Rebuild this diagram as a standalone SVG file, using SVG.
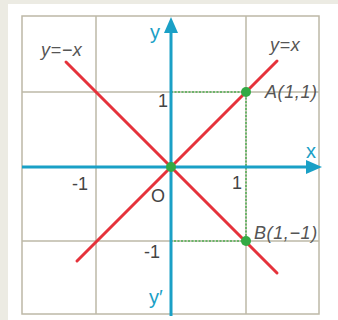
<svg xmlns="http://www.w3.org/2000/svg" width="338" height="320" viewBox="0 0 338 320">
<style>
.grid{stroke:#bdb8a7;stroke-width:1.5;fill:none}
.red{stroke:#e5323b;stroke-width:3;stroke-linecap:round}
.axis{stroke:#1aa0c6;stroke-width:3}
.dash{stroke:#4caf50;stroke-width:1.5;stroke-dasharray:2 1.5;fill:none}
.dot{fill:#33aa44}
.lbl{font-family:"Liberation Sans",Arial,sans-serif;font-style:italic;font-size:18px;fill:#555;letter-spacing:0.6px}
.num{font-family:"Liberation Sans",Arial,sans-serif;font-size:18px;fill:#444}
.ax{font-family:"Liberation Sans",Arial,sans-serif;font-size:20px;fill:#1aa0c6}
</style>
<rect x="0" y="0" width="338" height="320" fill="#ecebe3"/>
<rect x="8" y="4" width="330" height="316" fill="#ffffff"/>
<g id="grid">
<rect x="22" y="16" width="297" height="298" fill="#fdf6df" class="grid"/>
<line x1="96" y1="16" x2="96" y2="314" class="grid"/>
<line x1="246" y1="16" x2="246" y2="314" class="grid"/>
<line x1="22" y1="92" x2="319" y2="92" class="grid"/>
<line x1="22" y1="241" x2="319" y2="241" class="grid"/>
</g>
<g id="connectors">
<path d="M171 92 H246 V241 H171" class="dash"/>
<line x1="66" y1="62" x2="277" y2="273" class="red"/>
<line x1="77" y1="261" x2="277" y2="61" class="red"/>
<line x1="22" y1="167" x2="310" y2="167" class="axis"/>
<polygon points="322,167 306,160 306,174" fill="#1aa0c6"/>
<line x1="171" y1="316" x2="171" y2="28" class="axis"/>
<polygon points="171,17 164,33 178,33" fill="#1aa0c6"/>
</g>
<g id="points">
<circle cx="171" cy="167" r="5" class="dot"/>
<circle cx="246" cy="92" r="5" class="dot"/>
<circle cx="246" cy="241" r="5" class="dot"/>
</g>
<g id="labels">
<text x="150" y="39" class="ax">y</text>
<text x="306" y="158" class="ax">x</text>
<text x="149" y="304" class="ax">y′</text>
<text x="41" y="56" class="lbl">y=−x</text>
<text x="270" y="51" class="lbl">y=x</text>
<text x="265" y="98" class="lbl">A(1,1)</text>
<text x="254" y="239" class="lbl">B(1,−1)</text>
<text x="158" y="107" class="num">1</text>
<text x="72" y="190" class="num">-1</text>
<text x="232" y="189" class="num">1</text>
<text x="144" y="258" class="num">-1</text>
<text x="151" y="202" class="num" font-size="22">O</text>
</g>
</svg>
